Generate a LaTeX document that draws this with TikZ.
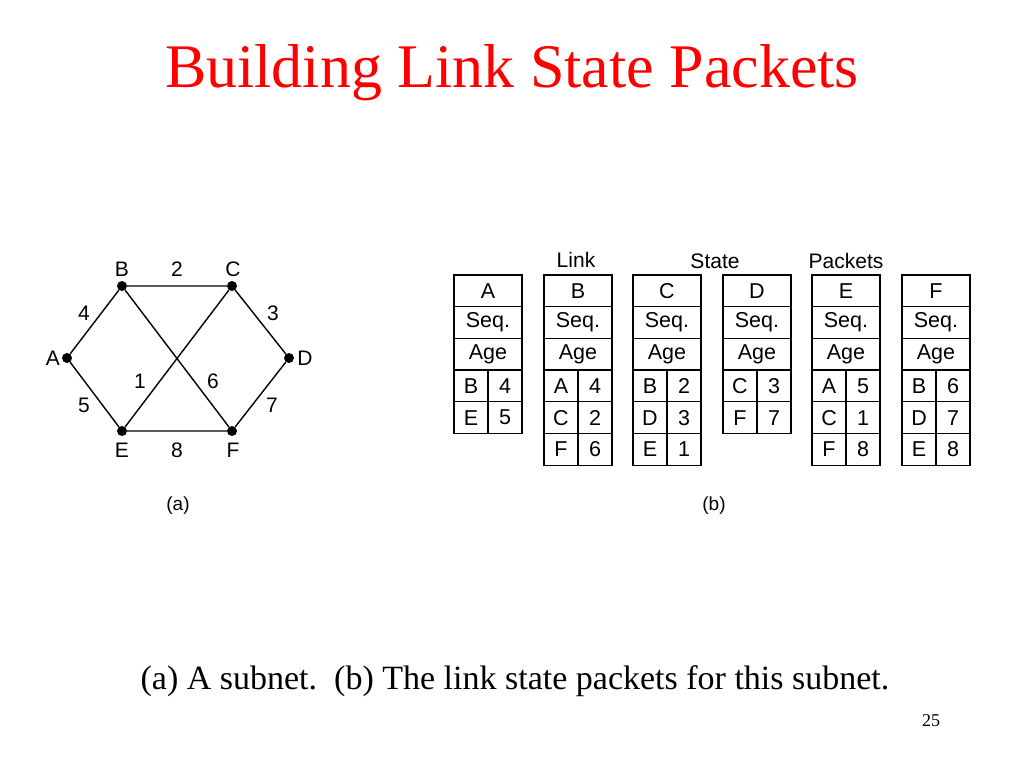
\documentclass[tikz,border=0pt]{standalone}
\usepackage{fontspec}
\setmainfont{Liberation Serif}
\newfontfamily\arialf{Liberation Sans}
\definecolor{titlered}{RGB}{255,0,0}
\begin{document}
\begin{tikzpicture}[x=1pt,y=-1pt,
  dot/.style={circle,fill=black,inner sep=0pt,minimum size=10pt},
  lbl/.style={font=\arialf\fontsize{21}{21}\selectfont,inner sep=0pt},
  edge/.style={line width=1.4pt},
  cell/.style={draw,line width=1.3pt,minimum width=68pt,minimum height=31.7pt,inner sep=0pt,outer sep=0pt,anchor=north west,font=\arialf\fontsize{21.5}{21.5}\selectfont},
  halfcell/.style={cell,minimum width=34pt}]
\useasboundingbox (0,0) rectangle (1024,768);
% title
\node[text=titlered,font=\fontsize{62}{62}\selectfont,inner sep=0pt,anchor=base] (title) at (512,87) {Building Link State Packets};
% graph
\node[dot] (A) at (67,358) {};
\node[dot] (B) at (122,286) {};
\node[dot] (C) at (232,286) {};
\node[dot] (D) at (289,358) {};
\node[dot] (E) at (122,431) {};
\node[dot] (F) at (232,431) {};
\draw[edge] (A) -- (B) (B) -- (C) (C) -- (D) (D) -- (F) (F) -- (E) (E) -- (A) (B) -- (F) (C) -- (E);
\node[lbl] (lA) at (53,358) {A};
\node[lbl] (lB) at (122,269) {B};
\node[lbl] (lC) at (233,269) {C};
\node[lbl] (lD) at (305,358) {D};
\node[lbl] (lE) at (122,450) {E};
\node[lbl] (lF) at (233,450) {F};
\node[lbl] (w2) at (177,269) {2};
\node[lbl] (w4) at (84,313) {4};
\node[lbl] (w3) at (273,313) {3};
\node[lbl] (w1) at (140,381) {1};
\node[lbl] (w6) at (213,381) {6};
\node[lbl] (w5) at (84,405) {5};
\node[lbl] (w7) at (272,405) {7};
\node[lbl] (w8) at (177,450) {8};
\node[lbl,font=\arialf\fontsize{19}{19}\selectfont] (capa) at (178,506) {(a)};
% tables
\node[lbl] (hLink) at (576,260) {Link};
\node[lbl] (hState) at (715,261) {State};
\node[lbl] (hPackets) at (846,261) {Packets};
\foreach \x/\n/\rows in {454/A/{B/4,E/5},544/B/{A/4,C/2,F/6},633/C/{B/2,D/3,E/1},723/D/{C/3,F/7},812/E/{A/5,C/1,F/8},902/F/{B/6,D/7,E/8}}{
  \node[cell] (t\n-h) at (\x,275) {\n};
  \node[cell] (t\n-s) at (\x,306.7) {Seq.};
  \node[cell] (t\n-a) at (\x,338.4) {Age};
  \foreach \l/\v [count=\i] in \rows {
    \node[halfcell] (t\n-l\i) at (\x,338.4+31.7*\i) {\l};
    \node[halfcell] (t\n-v\i) at (\x+34,338.4+31.7*\i) {\v};
  }
}
\node[lbl,font=\arialf\fontsize{19}{19}\selectfont] (capb) at (714,506) {(b)};
% caption
\node[font=\fontsize{34}{34}\selectfont,inner sep=0pt,anchor=base] (caption) at (515,689) {(a) A subnet.\ \ (b) The link state packets for this subnet.};
\node[font=\fontsize{18}{18}\selectfont,inner sep=0pt,anchor=base] (pnum) at (931,726) {25};
\end{tikzpicture}
\end{document}
